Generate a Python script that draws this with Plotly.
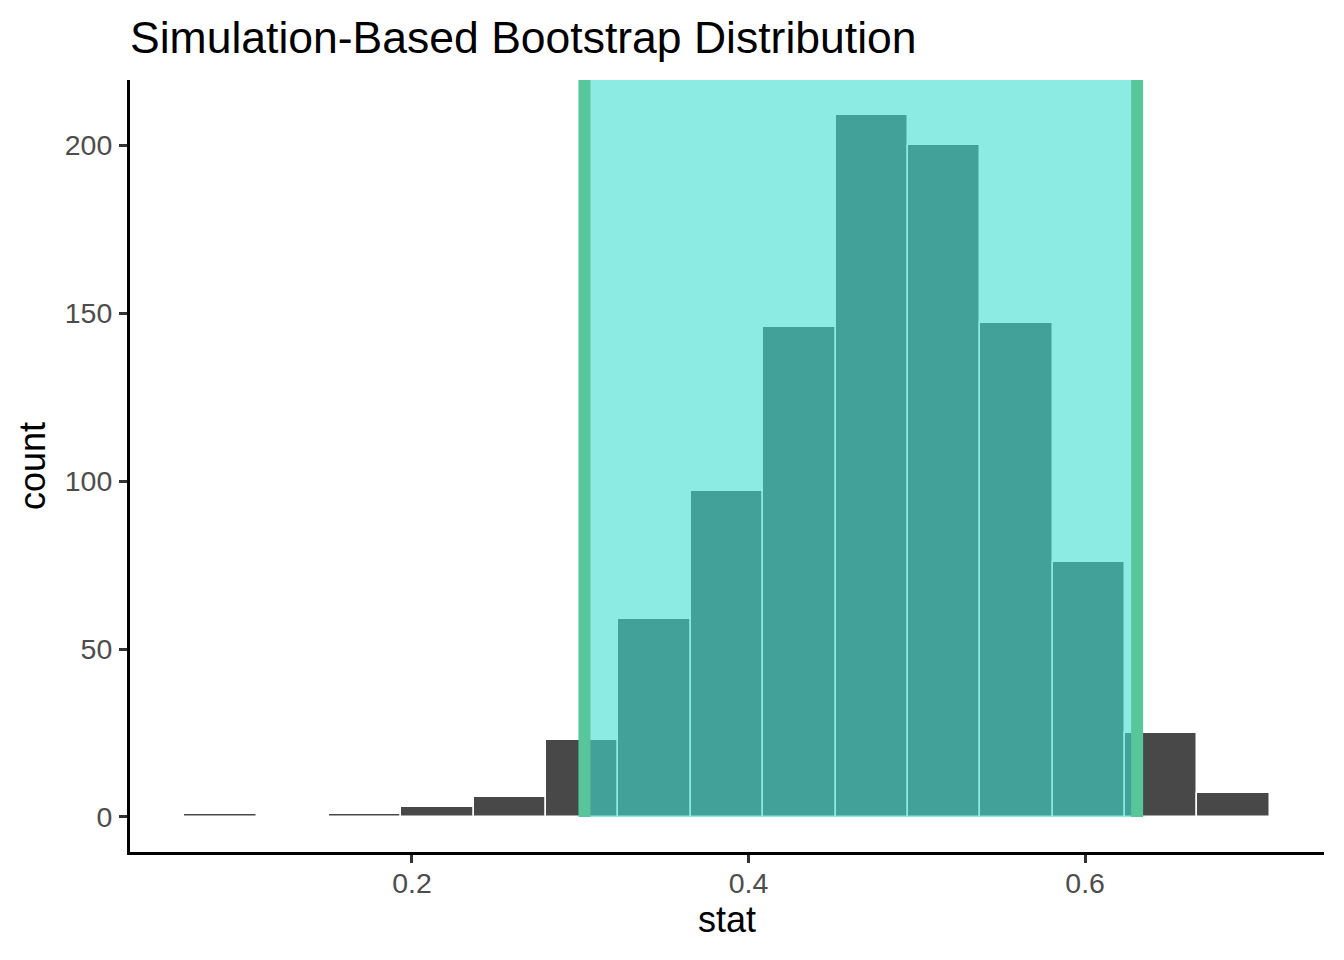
import plotly.graph_objects as go

# Data
bin_centers = [0.0862, 0.1292, 0.1722, 0.2152, 0.2582, 0.3012, 0.3442, 0.3872,
               0.4302, 0.4732, 0.5162, 0.5592, 0.6022, 0.6452, 0.6882]
counts = [1, 0, 1, 3, 6, 23, 59, 97, 146, 209, 200, 147, 76, 25, 7]
bin_width = 0.0430
ci_endpoints = [0.3025, 0.6309]
x_ticks = [0.2, 0.4, 0.6]
y_ticks = [0, 50, 100, 150, 200]

FONT = "Liberation Sans, Arial, Helvetica, sans-serif"

# page has an 8px body margin, so the figure is placed at (8, 8)
W, H = 1336, 952

xmin = bin_centers[0] - bin_width / 2
xmax = bin_centers[-1] + bin_width / 2
xpad = (xmax - xmin) * 0.05
ymax = max(counts)
ypad = ymax * 0.05
ytop = ymax + ypad

fig = go.Figure()
fig.add_trace(go.Bar(
    x=bin_centers, y=counts, width=[bin_width] * len(bin_centers),
    marker=dict(color="#484848", line=dict(color="white", width=1.5)),
    showlegend=False, hoverinfo="skip",
))

# CI shading (above bars, as in ggplot layer order), from 0 up to the panel top
fig.add_shape(type="rect", xref="x", yref="y",
              x0=ci_endpoints[0], x1=ci_endpoints[1], y0=0, y1=ytop,
              fillcolor="rgba(64,224,208,0.6)", line=dict(width=0), layer="above")
for e in ci_endpoints:
    fig.add_shape(type="line", xref="x", yref="y", x0=e, x1=e, y0=0, y1=ytop,
                  line=dict(color="#57C69A", width=12), layer="above")

fig.update_layout(
    width=W, height=H,
    margin=dict(l=122, r=20, t=72, b=108),
    paper_bgcolor="white", plot_bgcolor="white",
    font=dict(family=FONT, color="black"),
    bargap=0,
    title=dict(text="Simulation-Based Bootstrap Distribution",
               font=dict(size=44.5, color="black", family=FONT),
               xref="paper", x=0, xanchor="left",
               yref="container", y=1 - 29 / H, yanchor="middle"),
    xaxis=dict(range=[xmin - xpad, xmax + xpad], tickvals=x_ticks,
               ticktext=[f"{v:.1f}" for v in x_ticks],
               showgrid=False, zeroline=False,
               showline=True, linecolor="black", linewidth=3,
               ticks="outside", ticklen=8, tickwidth=2.5, tickcolor="#333333",
               ticklabelstandoff=-4,
               tickfont=dict(size=28.5, color="#4D4D4D"),
               title=dict(text="stat", font=dict(size=36, color="black"), standoff=0)),
    yaxis=dict(range=[-ypad, ytop], tickvals=y_ticks,
               showgrid=False, zeroline=False,
               showline=True, linecolor="black", linewidth=3,
               ticks="outside", ticklen=8, tickwidth=2.5, tickcolor="#333333",
               ticklabelstandoff=1,
               tickfont=dict(size=28.5, color="#4D4D4D"),
               title=dict(text="count", font=dict(size=36, color="black"), standoff=9)),
)

fig.write_html("out.html")
